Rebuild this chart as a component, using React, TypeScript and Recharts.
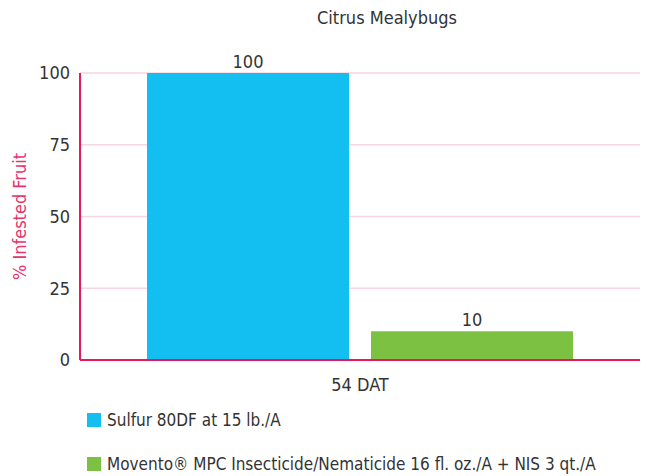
import { BarChart, Bar, XAxis, YAxis, CartesianGrid, Legend, LabelList } from "recharts";

const categories = ["54 DAT"];
const sulfur = [100];
const movento = [10];
const yTicks = [0, 25, 50, 75, 100];

const seriesOrder = ["sulfur", "movento"];
const seriesNames: Record<string, string> = {
  sulfur: "Sulfur 80DF at 15 lb./A",
  movento: "Movento\u00AE MPC Insecticide/Nematicide 16 fl. oz./A + NIS 3 qt./A",
};

const data = categories.map((c, i) => ({ name: c, sulfur: sulfur[i], movento: movento[i] }));

const FONT = "'DejaVu Sans Condensed', 'Liberation Sans', sans-serif";
const PINK = "#E5195B";
const GRID = "#F9D5E1";
const TEXT = "#333333";

const LegendBox = ({ payload }: any) => {
  const items = [...(payload || [])].sort(
    (a: any, b: any) => seriesOrder.indexOf(a.dataKey) - seriesOrder.indexOf(b.dataKey)
  );
  return (
    <div style={{ fontFamily: FONT, fontSize: 17, color: TEXT, paddingTop: 8 }}>
      {items.map((p: any) => (
        <div key={p.dataKey} style={{ display: "flex", alignItems: "center", height: 44 }}>
          <span style={{ width: 14, height: 14, background: p.color, marginRight: 6, display: "inline-block" }} />
          <span>{seriesNames[p.dataKey]}</span>
        </div>
      ))}
    </div>
  );
};

export default function App() {
  return (
    <div style={{ position: "absolute", left: 0, top: 0, background: "#fff" }}>
      <BarChart
        width={654}
        height={476}
        data={data}
        margin={{ top: 73, right: 14, left: 0, bottom: 2 }}
        barCategoryGap={67}
        barGap={22}
        style={{ fontFamily: FONT }}
      >
        <text x={387} y={24} textAnchor="middle" fontSize={18} fill={TEXT} fontFamily={FONT}>
          Citrus Mealybugs
        </text>
        <CartesianGrid vertical={false} stroke={GRID} strokeWidth={1.5} />
        <XAxis
          dataKey="name"
          axisLine={{ stroke: PINK, strokeWidth: 2 }}
          tickLine={false}
          height={30}
          tick={{ fontSize: 18, fill: TEXT, fontFamily: FONT }}
          tickMargin={12}
        />
        <YAxis
          width={80}
          domain={[0, 100]}
          ticks={yTicks}
          axisLine={{ stroke: PINK, strokeWidth: 2 }}
          tickLine={false}
          tick={{ fontSize: 18, fill: TEXT, fontFamily: FONT }}
          tickMargin={4}
          label={{
            value: "% Infested Fruit",
            angle: -90,
            position: "insideLeft",
            offset: 20,
            style: { textAnchor: "middle", fill: "#E8336D", fontSize: 18, fontFamily: FONT },
          }}
        />
        <Legend
          verticalAlign="bottom"
          align="left"
          content={<LegendBox />}
          wrapperStyle={{ paddingLeft: 87, height: 84 }}
        />
        <Bar dataKey="sulfur" fill="#13BEF0" isAnimationActive={false}>
          <LabelList dataKey="sulfur" position="top" fill={TEXT} fontSize={18} fontFamily={FONT} offset={5} />
        </Bar>
        <Bar dataKey="movento" fill="#7CC142" isAnimationActive={false}>
          <LabelList dataKey="movento" position="top" fill={TEXT} fontSize={18} fontFamily={FONT} offset={5} />
        </Bar>
      </BarChart>
    </div>
  );
}
